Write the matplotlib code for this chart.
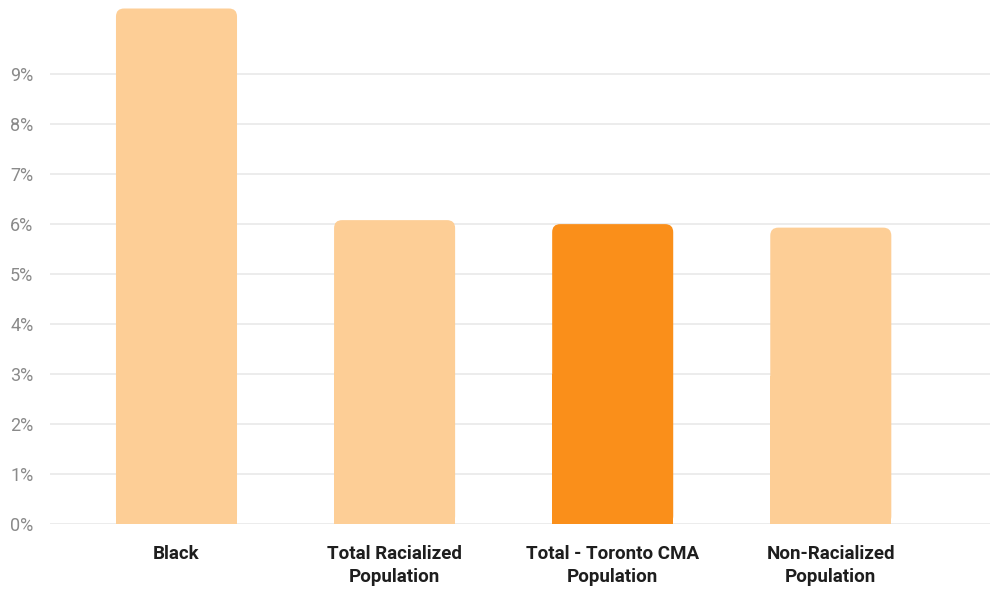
import matplotlib
matplotlib.use("Agg")
import matplotlib.pyplot as plt
from matplotlib.patches import FancyBboxPatch, Rectangle
from matplotlib.transforms import ScaledTranslation

categories = ["Black", "Total Racialized\nPopulation", "Total - Toronto CMA\nPopulation", "Non-Racialized\nPopulation"]
values = [10.31, 6.08, 6.00, 5.93]
highlight = [False, False, True, False]
yticks = [0, 1, 2, 3, 4, 5, 6, 7, 8, 9]
ytick_labels = [f"{t}%" for t in yticks]

light = "#FDCE96"
dark = "#FA8F1A"

fig = plt.figure(figsize=(9.9, 5.9), dpi=100)
ax = fig.add_axes([50/990, (590-524.3)/590, 940/990, 524.3/590])
ax.set_xlim(-0.58, 3.73)
ax.set_ylim(0, 10.48)

width = 0.555
rx = 0.037
ry = 0.16
for i, (v, h) in enumerate(zip(values, highlight)):
    c = dark if h else light
    x0 = i - width / 2
    p = FancyBboxPatch((x0, 0), width, v,
                       boxstyle=f"round,pad=0,rounding_size={rx}",
                       mutation_aspect=ry / rx, facecolor=c, edgecolor="none", zorder=3)
    ax.add_patch(p)
    ax.add_patch(Rectangle((x0, 0), width, v / 2, facecolor=c, edgecolor="none", zorder=3))

ax.set_xticks(range(len(categories)))
ax.set_xticklabels(categories, fontsize=13.5, fontweight="semibold", color="#1e1e1e",
                   family="Roboto", linespacing=1.35)
ax.set_yticks(yticks)
ax.set_yticklabels(ytick_labels, fontsize=13, color="#8a8a8a", family="Roboto")
offset = ScaledTranslation(0, 3/100, fig.dpi_scale_trans)
for lbl in ax.get_yticklabels():
    lbl.set_transform(lbl.get_transform() + offset)
ax.tick_params(axis="both", length=0)
ax.tick_params(axis="x", pad=15)
ax.tick_params(axis="y", pad=12)
ax.grid(axis="y", color="#e9e9e9", linewidth=1.2, zorder=0)
ax.set_axisbelow(True)
for s in ax.spines.values():
    s.set_visible(False)

fig.savefig("out.png", dpi=100)
